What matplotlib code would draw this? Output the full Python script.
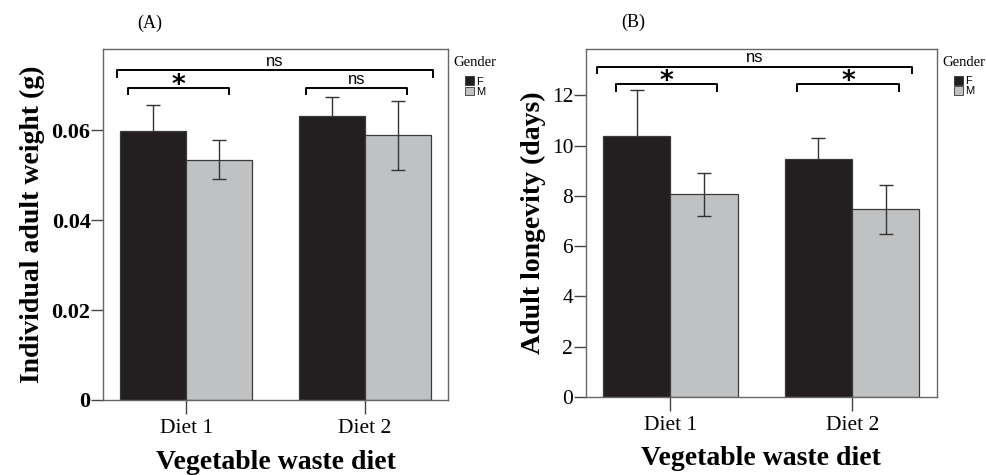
import matplotlib.pyplot as plt
import numpy as np
from matplotlib.patches import Patch

plt.rcParams['font.family'] = 'Liberation Serif'

diets = ['Diet 1', 'Diet 2']
genders = ['F', 'M']
colors = ['#231f20', '#c0c1c3']

# (A) individual adult weight, g
weight_f = [0.0597, 0.0632]
weight_m = [0.0534, 0.0588]
weight_f_err = [0.0058, 0.0041]
weight_m_err = [0.0043, 0.0076]

# (B) adult longevity, days
days_f = [10.40, 9.46]
days_m = [8.06, 7.47]
days_f_err = [1.81, 0.83]
days_m_err = [0.85, 0.97]

# significance brackets: (x0, x1, y, tip drop, label)
brackets_a = [(-0.385, 1.38, 0.0733, 0.0015, 'ns'),
              (-0.324, 0.24, 0.0693, 0.0014, '*'),
              (0.67, 1.235, 0.0693, 0.0014, 'ns')]
brackets_b = [(-0.405, 1.329, 13.15, 0.25, 'ns'),
              (-0.30, 0.257, 12.45, 0.26, '*'),
              (0.699, 1.26, 12.45, 0.26, '*')]

fig = plt.figure(figsize=(9.86, 4.75), dpi=100)
ax_a = fig.add_axes([0.1045, 0.1579, 0.3499, 0.7389])
ax_b = fig.add_axes([0.594, 0.1648, 0.356, 0.732])

x = np.arange(len(diets))
w = 0.37


def draw_panel(ax, f, m, ferr, merr, brackets, ymax, tick_step, tick_fmt, bold_ticks):
    # female error bars sit behind the dark bars, so only the upper half shows
    ax.errorbar(x - w / 2, f, yerr=ferr, fmt='none', ecolor='#333333', elinewidth=1.0,
                capsize=5, capthick=1.0, zorder=1)
    ax.bar(x - w / 2, f, w, color=colors[0], edgecolor='#3a3a3a', linewidth=0.9, zorder=2)
    ax.bar(x + w / 2, m, w, color=colors[1], edgecolor='#3a3a3a', linewidth=0.9, zorder=2)
    ax.errorbar(x + w / 2, m, yerr=merr, fmt='none', ecolor='#333333', elinewidth=1.0,
                capsize=5, capthick=1.0, zorder=3)
    ax.set_xlim(-0.465, 1.465)
    ax.set_ylim(0, ymax)
    ax.set_xticks(x)
    ax.set_xticklabels(diets, fontsize=15.5)
    yt = np.arange(0, ymax, tick_step)
    ax.set_yticks(yt)
    ax.set_yticklabels([tick_fmt(v) for v in yt], fontsize=16 if bold_ticks else 15.5,
                       fontweight='bold' if bold_ticks else 'normal')
    ax.tick_params(axis='y', length=9, width=1, color='#444444', pad=0)
    ax.tick_params(axis='x', length=10, width=1, color='#444444', pad=4)
    for s in ax.spines.values():
        s.set_color('#666666')
        s.set_linewidth(1.0)
    for x0, x1, y, drop, label in brackets:
        ax.plot([x0, x0, x1, x1], [y - drop, y, y, y - drop], color='black', lw=1.4,
                clip_on=False)
        if label == '*':
            ax.annotate(label, xy=((x0 + x1) / 2, y), xytext=(0, -3.5), textcoords='offset points',
                        ha='center', va='baseline', fontsize=19, fontweight='bold',
                        family='DejaVu Sans')
        else:
            ax.annotate(label, xy=((x0 + x1) / 2, y), xytext=(0, 3), textcoords='offset points',
                        ha='center', va='baseline', fontsize=12, family='Liberation Sans')
    ax.set_xlabel('Vegetable waste diet', fontsize=20, fontweight='bold', labelpad=8)
    ax.text(1.015, 0.962, 'Gender', transform=ax.transAxes, ha='left', va='center',
            fontsize=10.5, family='Liberation Serif')
    handles = [Patch(facecolor=c, edgecolor='#333333', linewidth=0.6) for c in colors]
    ax.legend(handles, genders, loc='upper left', bbox_to_anchor=(1.05, 0.922),
              frameon=False, handlelength=0.8, handleheight=0.8, handletextpad=0.15,
              labelspacing=0.0, borderaxespad=0, borderpad=0,
              prop={'family': 'Liberation Sans', 'size': 8})


draw_panel(ax_a, weight_f, weight_m, weight_f_err, weight_m_err, brackets_a,
           0.078, 0.02, lambda v: '0' if v == 0 else f'{v:.2f}', True)
ax_a.set_ylabel('Individual adult weight (g)', fontsize=20, fontweight='bold', labelpad=5)

draw_panel(ax_b, days_f, days_m, days_f_err, days_m_err, brackets_b,
           13.85, 2, lambda v: f'{int(round(v))}', False)
ax_b.set_ylabel('Adult longevity (days)', fontsize=20, fontweight='bold', labelpad=4)

fig.text(150 / 986, 1 - 23 / 475, '(A)', ha='center', va='center', fontsize=13)
fig.text(633 / 986, 1 - 22 / 475, '(B)', ha='center', va='center', fontsize=13)

fig.savefig('out.png', dpi=100)
